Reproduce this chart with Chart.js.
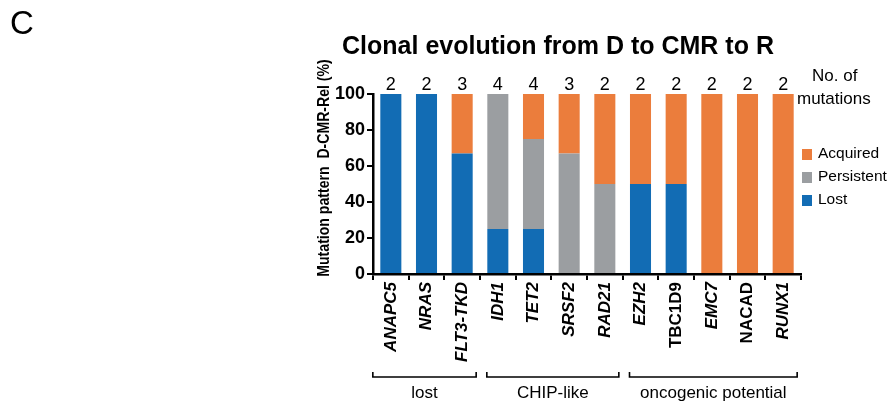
<!DOCTYPE html>
<html>
<head>
<meta charset="utf-8">
<script src="https://cdn.jsdelivr.net/npm/chart.js@4"></script>
<style>
  html, body { margin: 0; padding: 0; background: #fff; }
  #wrap { position: relative; width: 887px; height: 402px; }
</style>
</head>
<body>
<div id="wrap"><canvas id="clonalChart" width="887" height="402"></canvas></div>
<script>
// --- Data ---
const genes = ['ANAPC5', 'NRAS', 'FLT3-TKD', 'IDH1', 'TET2', 'SRSF2', 'RAD21', 'EZH2', 'TBC1D9', 'EMC7', 'NACAD', 'RUNX1'];
const italicGenes = ['ANAPC5', 'NRAS', 'FLT3-TKD', 'IDH1', 'TET2', 'SRSF2', 'RAD21', 'EZH2', 'EMC7', 'RUNX1'];
const lost       = [100, 100, 67, 25, 25, 0, 0, 50, 50, 0, 0, 0];
const persistent = [0, 0, 0, 75, 50, 67, 50, 0, 0, 0, 0, 0];
const acquired   = [0, 0, 33, 0, 25, 33, 50, 50, 50, 100, 100, 100];
const mutationCounts = [2, 2, 3, 4, 4, 3, 2, 2, 2, 2, 2, 2];
const yTicks = [0, 20, 40, 60, 80, 100];
const groups = [
    { label: 'lost', from: 0, to: 2 },
    { label: 'CHIP-like', from: 3, to: 6 },
    { label: 'oncogenic potential', from: 7, to: 11 }
];

const BLUE = '#126cb4';
const GREY = '#9b9ea1';
const ORANGE = '#eb7d3c';
const FONT = '"Liberation Sans", Arial, Helvetica, sans-serif';

// --- Extra drawing: counts, legend, titles, group brackets ---
const extrasPlugin = {
    id: 'extras',
    afterDraw(chart) {
        const { ctx, scales: { x, y } } = chart;
        ctx.save();
        ctx.fillStyle = '#000';
        ctx.strokeStyle = '#000';

        // panel letter
        ctx.font = '33px ' + FONT;
        ctx.textAlign = 'left';
        ctx.textBaseline = 'alphabetic';
        ctx.fillText('C', 10, 34);

        // title
        ctx.font = 'bold 25px ' + FONT;
        ctx.textAlign = 'center';
        ctx.fillText('Clonal evolution from D to CMR to R', 558, 54);

        // y axis title (slightly condensed like the original)
        ctx.save();
        ctx.translate(325, 168);
        ctx.rotate(-Math.PI / 2);
        ctx.scale(0.88, 1);
        ctx.font = 'bold 16px ' + FONT;
        ctx.textAlign = 'center';
        ctx.textBaseline = 'middle';
        ctx.fillText('Mutation pattern  D-CMR-Rel (%)', 0, 0);
        ctx.restore();

        // number of mutations above the bars
        ctx.font = '18px ' + FONT;
        ctx.textAlign = 'center';
        ctx.textBaseline = 'alphabetic';
        mutationCounts.forEach((n, i) => {
            ctx.fillText(String(n), x.getPixelForValue(i), y.getPixelForValue(100) - 4);
        });
        ctx.textAlign = 'left';
        ctx.font = '17px ' + FONT;
        ctx.fillText('No. of', 812, 81);
        ctx.fillText('mutations', 797, 104);

        // legend
        const items = [['Acquired', ORANGE], ['Persistent', GREY], ['Lost', BLUE]];
        ctx.font = '15.5px ' + FONT;
        ctx.textBaseline = 'middle';
        items.forEach(([name, col], k) => {
            const cy = 154 + k * 23;
            ctx.fillStyle = col;
            ctx.fillRect(802, cy - 5, 10, 11);
            ctx.fillStyle = '#000';
            ctx.fillText(name, 818, cy);
        });

        // group brackets
        ctx.lineWidth = 1.6;
        ctx.font = '17px ' + FONT;
        ctx.textAlign = 'center';
        ctx.textBaseline = 'alphabetic';
        groups.forEach(g => {
            const x0 = x.getPixelForValue(g.from) - (g.from === 0 ? 18 : 11);
            const x1 = x.getPixelForValue(g.to) + 14;
            const by = 377;
            ctx.beginPath();
            ctx.moveTo(x0, by - 5);
            ctx.lineTo(x0, by);
            ctx.lineTo(x1, by);
            ctx.lineTo(x1, by - 5);
            ctx.stroke();
            ctx.fillText(g.label, (x0 + x1) / 2, 398);
        });
        ctx.restore();
    }
};

const chartCtx = document.getElementById('clonalChart').getContext('2d');
new Chart(chartCtx, {
    type: 'bar',
    data: {
        labels: genes,
        datasets: [
            { label: 'Lost', data: lost, backgroundColor: BLUE },
            { label: 'Persistent', data: persistent, backgroundColor: GREY },
            { label: 'Acquired', data: acquired, backgroundColor: ORANGE }
        ]
    },
    options: {
        responsive: false,
        animation: false,
        layout: { padding: { top: 94, right: 86, left: 0, bottom: 0 } },
        plugins: {
            legend: { display: false },
            tooltip: { enabled: false }
        },
        datasets: {
            bar: { barPercentage: 1, categoryPercentage: 0.59, borderWidth: 0 }
        },
        scales: {
            x: {
                stacked: true,
                afterFit: scale => { scale.height = 128; },
                border: { display: true, color: '#000', width: 2.5 },
                grid: { display: true, drawOnChartArea: false, drawTicks: true, tickLength: 6, color: '#000', lineWidth: 2 },
                ticks: {
                    color: '#000',
                    minRotation: 90,
                    maxRotation: 90,
                    padding: 2,
                    font: c => ({
                        family: FONT,
                        size: 17,
                        weight: 'bold',
                        style: italicGenes.includes(genes[c.index]) ? 'italic' : 'normal'
                    })
                }
            },
            y: {
                stacked: true,
                min: 0,
                max: 100,
                afterFit: scale => { scale.width = 373; },
                afterBuildTicks: scale => { scale.ticks = yTicks.map(v => ({ value: v })); },
                border: { display: true, color: '#000', width: 2.5 },
                grid: { display: true, drawOnChartArea: false, drawTicks: true, tickLength: 6, color: '#000', lineWidth: 2 },
                ticks: {
                    color: '#000',
                    padding: 2,
                    font: { family: FONT, size: 18, weight: 'bold' }
                }
            }
        }
    },
    plugins: [extrasPlugin]
});
</script>
</body>
</html>
